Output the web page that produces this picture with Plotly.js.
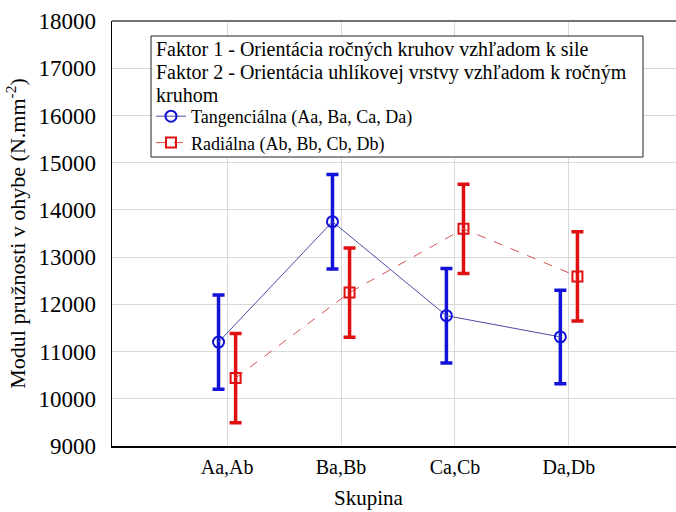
<!DOCTYPE html>
<html><head><meta charset="utf-8">
<script src="https://cdn.plot.ly/plotly-3.0.1.min.js"></script>
<style>html,body{margin:0;padding:0;background:#fff}</style>
</head><body>
<div id="chart" style="width:676px;height:512px"></div>
<script>
const categories = ["Aa,Ab", "Ba,Bb", "Ca,Cb", "Da,Db"];
const tangMean = [11200, 13750, 11760, 11310];
const tangErr = [1000, 1000, 1000, 990];
const radMean = [10440, 12250, 13600, 12590];
const radErr = [945, 945, 945, 945];
const tangName = "Tangenciálna (Aa, Ba, Ca, Da)";
const radName = "Radiálna (Ab, Bb, Cb, Db)";
const legendTitleLines = [
  "Faktor 1 - Orientácia ročných kruhov vzhľadom k sile",
  "Faktor 2 - Orientácia uhlíkovej vrstvy vzhľadom k ročným",
  "kruhom"
];
const yTitle = "Modul pružnosti v ohybe (N.mm<sup>-2</sup>)";
const xTitle = "Skupina";

const idx = categories.map((c, i) => i);
const dodge = 0.075;
const serifFamily = "Liberation Serif";

// pixel helpers for the plot frame (margins below)
const W = 676, H = 512, ML = 112, MR = 0, MT = 21, MB = 66;
const px = x => (x - ML) / (W - ML - MR);
const py = y => 1 - (y - MT) / (H - MT - MB);

const traces = [
  {
    type: "scatter", mode: "lines+markers", name: tangName,
    x: idx.map(i => i - dodge), y: tangMean,
    line: {color: "#4a4aa8", width: 1},
    marker: {symbol: "circle-open", size: 11, color: "#1212d8", line: {width: 2, color: "#1212d8"}},
    error_y: {type: "data", array: tangErr, visible: true, color: "#1212d8", thickness: 3.5, width: 6}
  },
  {
    type: "scatter", mode: "lines+markers", name: radName,
    x: idx.map(i => i + dodge), y: radMean,
    line: {color: "#d85050", width: 1, dash: "dash"},
    marker: {symbol: "square-open", size: 10, color: "#e01010", line: {width: 2, color: "#e01010"}},
    error_y: {type: "data", array: radErr, visible: true, color: "#e01010", thickness: 3.5, width: 6}
  }
];

const titleRows = [49, 72, 95];

const layout = {
  width: W, height: H,
  margin: {l: ML, r: MR, t: MT, b: MB},
  paper_bgcolor: "#fff", plot_bgcolor: "#fff",
  showlegend: true,
  legend: {
    x: px(151), y: py(98), xanchor: "left", yanchor: "top",
    bgcolor: "rgba(0,0,0,0)", borderwidth: 0,
    font: {family: serifFamily, size: 18, color: "#000"},
    tracegroupgap: 0, itemwidth: 30
  },
  xaxis: {
    range: [-1.01, 3.94],
    tickmode: "array", tickvals: idx, ticktext: categories,
    showgrid: true, gridcolor: "#d9d9d9", gridwidth: 1,
    showline: true, linecolor: "#000", linewidth: 1.5,
    ticks: "", zeroline: false,
    tickfont: {family: serifFamily, size: 20, color: "#000"},
    ticklabelstandoff: 2
  },
  yaxis: {
    range: [9000, 18000],
    tickmode: "linear", tick0: 9000, dtick: 1000, tickformat: "d",
    showgrid: true, gridcolor: "#d9d9d9", gridwidth: 1,
    showline: true, linecolor: "#000", linewidth: 1.5,
    ticks: "", zeroline: false,
    tickfont: {family: serifFamily, size: 23, color: "#000"},
    ticklabelstandoff: 10,
    title: {text: yTitle, font: {family: serifFamily, size: 22, color: "#000"}, standoff: 6}
  },
  shapes: [
    {type: "line", xref: "paper", yref: "paper", x0: 0, x1: 1, y0: 1, y1: 1, line: {color: "#444", width: 1.5}},
    {type: "rect", xref: "paper", yref: "paper", layer: "above",
     x0: px(151), x1: px(643), y0: py(157), y1: py(36),
     fillcolor: "#fff", line: {color: "#222", width: 1}}
  ],
  annotations: [
    {text: xTitle, xref: "paper", yref: "paper", x: px(369), y: 0, yshift: -52, xanchor: "center", yanchor: "middle", showarrow: false, font: {family: serifFamily, size: 21, color: "#000"}}
  ].concat(legendTitleLines.map((t, i) => ({
    text: t, xref: "paper", yref: "paper", x: px(154), y: py(titleRows[i]),
    xanchor: "left", yanchor: "middle", showarrow: false,
    font: {family: serifFamily, size: 20, color: "#000"}
  })))
};

Plotly.newPlot("chart", traces, layout, {displayModeBar: false, staticPlot: true});
</script>
</body></html>
